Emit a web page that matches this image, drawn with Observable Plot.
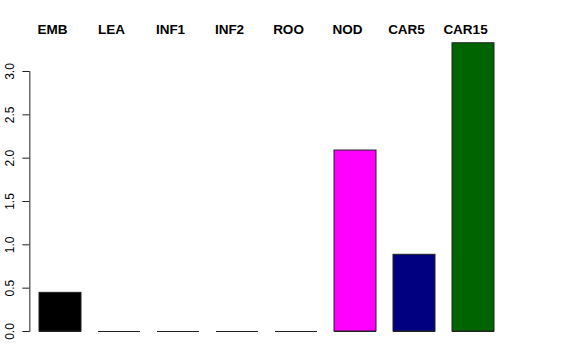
<!DOCTYPE html>
<html>
<head>
<meta charset="utf-8">
<script src="https://cdn.jsdelivr.net/npm/d3@7"></script>
<script src="https://cdn.jsdelivr.net/npm/@observablehq/plot@0.6"></script>
<style>
  html, body { margin: 0; padding: 0; background: #fff; }
  svg { display: block; font-family: "Liberation Sans", Arial, sans-serif; }
</style>
</head>
<body>
<div id="chart"></div>
<script>
const categories = ["EMB", "LEA", "INF1", "INF2", "ROO", "NOD", "CAR5", "CAR15"];
const values = [0.446, 0, 0, 0, 0, 2.088, 0.885, 3.326];
const colors = ["black", "red", "#00CD00", "blue", "cyan", "magenta", "#000080", "#006400"];
const yTicks = [0, 0.5, 1.0, 1.5, 2.0, 2.5, 3.0];

const data = categories.map((c, i) => ({category: c, value: values[i], color: colors[i]}));

const chart = Plot.plot({
  width: 576,
  height: 360,
  marginLeft: 29.35,
  marginRight: 72.35,
  marginTop: 71,
  marginBottom: 29,
  style: {fontFamily: "'Liberation Sans', Arial, sans-serif", background: "#fff"},
  x: {domain: categories, paddingInner: 0.29, paddingOuter: 0.145, axis: null},
  y: {domain: [0, 3], range: [331, 71], axis: null, label: null},
  marks: [
    Plot.barY(data, {x: "category", y: "value", fill: "color", stroke: "#222", strokeWidth: 1}),
    Plot.tickY(data, {x: "category", y: 0, stroke: "#222", strokeWidth: 1}),
    Plot.axisY({ticks: yTicks, tickSize: 7, text: null, label: null, stroke: "#222"}),
    Plot.frame({anchor: "left", stroke: "#222"}),
    Plot.text(yTicks, {y: d => d, text: d => d3.format(".1f")(d), frameAnchor: "left", dx: -20, rotate: -90, textAnchor: "middle", lineAnchor: "middle", fontSize: 12, fill: "black"}),
    Plot.text(categories, {x: d => d, text: d => d, frameAnchor: "top", dy: -41.5, dx: -8, textAnchor: "middle", lineAnchor: "middle", fontSize: 13.5, fontWeight: "bold", fill: "black"})
  ]
});
document.getElementById("chart").appendChild(chart);
</script>
</body>
</html>
